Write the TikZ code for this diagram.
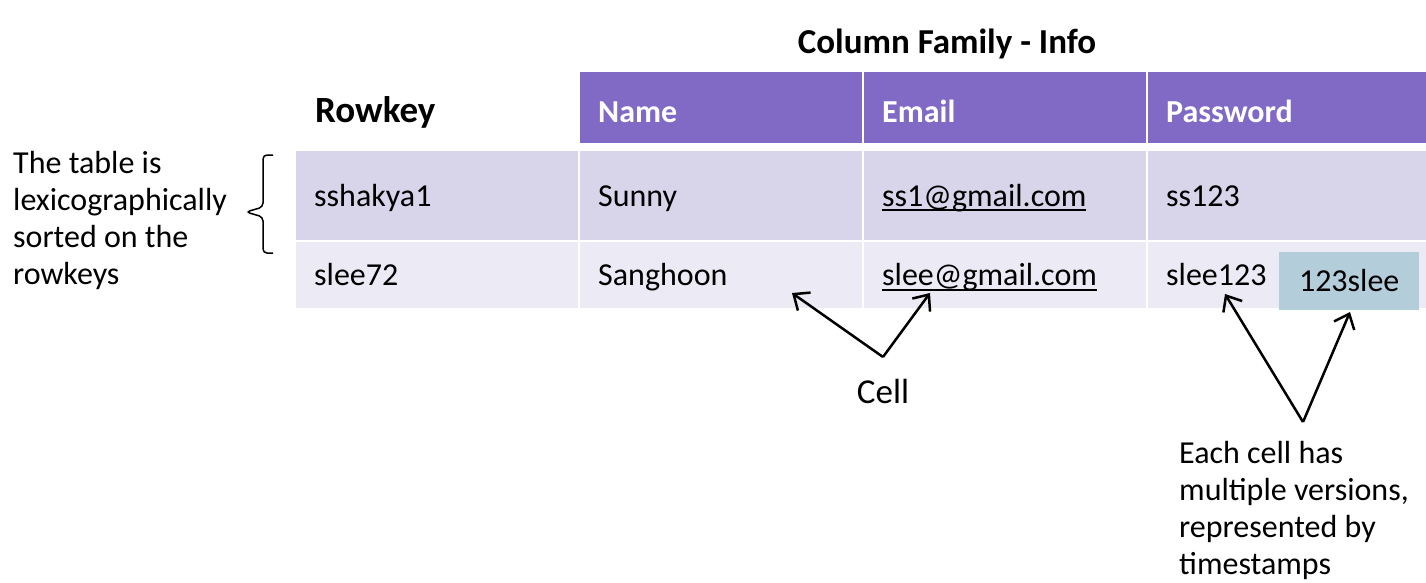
\documentclass[tikz,border=0pt]{standalone}
\usepackage{fontspec}
\setmainfont{Carlito}
\usetikzlibrary{arrows.meta}

\definecolor{headpurple}{RGB}{128,106,198}
\definecolor{rowdark}{RGB}{216,212,234}
\definecolor{rowlight}{RGB}{236,234,244}
\definecolor{oldblue}{RGB}{180,205,218}

\newcommand{\bodyfont}{\fontsize{32}{37}\selectfont}
\newcommand{\mail}[1]{\setbox0\hbox{#1}\rlap{\rule[-5pt]{\wd0}{2pt}}\box0}

\begin{document}
\begin{tikzpicture}[x=1pt, y=-1pt, >={Straight Barb[length=13pt,width=22pt]},
  head cell/.style={anchor=north west, fill=headpurple, text=white,
    font=\bfseries\fontsize{32}{37}\selectfont, minimum height=71,
    text width=246pt, inner xsep=18pt, inner ysep=0pt, align=left,
    text height=30pt, text depth=0pt},
  body cell/.style={anchor=north west, font=\bodyfont, text width=246pt,
    inner xsep=18pt, inner ysep=0pt, align=left, text height=21pt, text depth=0pt},
  note/.style={anchor=base west, font=\bodyfont, align=left, inner sep=0pt},
  pointer/.style={line width=2.5pt}]

\useasboundingbox (0,0) rectangle (1426,583);

\node [anchor=base, font=\bfseries\fontsize{35}{40}\selectfont] (title) at (947,54) {Column Family - Info};

\node [anchor=base west, inner sep=0pt, font=\bfseries\fontsize{37}{42}\selectfont] (rowkey) at (315,122) {Rowkey};

\foreach \l [count=\i] in {Name,Email,Password}
  \node [head cell] (head-\i) at (296+\i*284,72) {\l};

\foreach \y/\h/\col/\k/\n/\e/\p [count=\r] in {151/89/rowdark/sshakya1/Sunny/ss1@gmail.com/ss123, 242/66/rowlight/slee72/Sanghoon/slee@gmail.com/slee123}
{
  \node [body cell, minimum height=\h, fill=\col] (key-\r) at (296,\y) {\k};
  \node [body cell, minimum height=\h, fill=\col] (name-\r) at (580,\y) {\n};
  \node [body cell, minimum height=\h, fill=\col] (email-\r) at (864,\y) {\mail{\e}};
  \node [body cell, minimum height=\h, fill=\col] (pass-\r) at (1148,\y) {\p};
}

\node [anchor=north west, fill=oldblue, minimum width=140, minimum height=58, inner sep=0pt,
  font=\bodyfont, text height=20pt, text depth=0pt] (oldver) at (1279,252) {123slee};

% row key note and brace
\node [note] (sortnote) at (13,284) {The table is\\lexicographically\\sorted on the\\rowkeys};
\draw [line width=1.5pt, rounded corners=4pt] (273,155) -- (263,155) -- (263,207) -- (246,212)
  -- (263,217) -- (263,253) -- (273,253);

% cell pointers
\coordinate (cell-fork) at (883,357);
\coordinate (name-tip) at (792,293);
\coordinate (email-tip) at (930,293);
\node [anchor=base, font=\fontsize{35}{40}\selectfont] (celllbl) at (883,403) {Cell};
\draw [->, pointer] (cell-fork) -- (name-tip);
\draw [->, pointer] (cell-fork) -- (email-tip);

% version pointers
\coordinate (ts-fork) at (1303,422);
\coordinate (pass-tip) at (1225,294);
\coordinate (old-tip) at (1350,312);
\draw [->, pointer] (ts-fork) -- (pass-tip);
\draw [->, pointer] (ts-fork) -- (old-tip);
\node [note] (versnote) at (1179,574) {Each cell has\\multiple versions,\\represented by\\timestamps};

\end{tikzpicture}
\end{document}
